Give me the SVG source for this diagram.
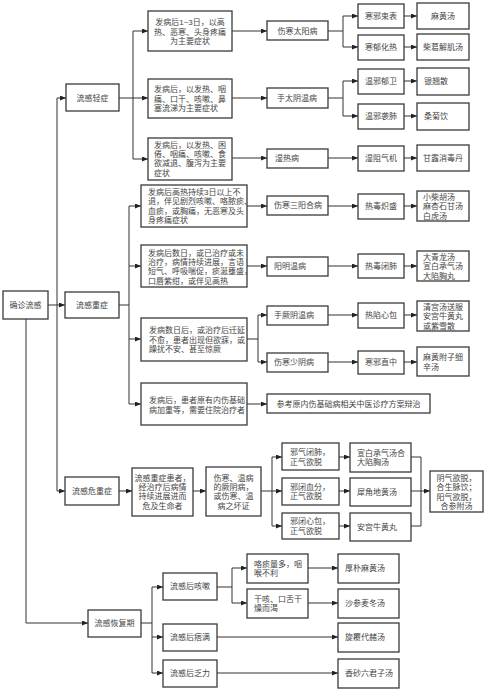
<svg xmlns="http://www.w3.org/2000/svg" width="500" height="693" viewBox="0 0 500 693">
<defs>
<style>
.b{fill:#fff;stroke:#3a3a3a;stroke-width:1.3}
.t{font-family:"Liberation Sans","Noto Sans CJK SC",sans-serif;font-size:8px;fill:#444;dominant-baseline:central}
.m{text-anchor:middle}
.c{fill:none;stroke:#333;stroke-width:1}
.a{marker-end:url(#ah)}
</style>
<marker id="ah" viewBox="0 0 10 10" refX="10" refY="5" markerWidth="6" markerHeight="5" markerUnits="userSpaceOnUse" orient="auto" preserveAspectRatio="none"><path d="M0,0 L10,5 L0,10 z" fill="#222"/></marker>
</defs>
<rect width="500" height="693" fill="#fff"/>

<g id="connectors">
<path class="c" d="M57,98 V491"/>
<path class="c a" d="M57,98 H66"/>
<path class="c a" d="M48,305 H65"/>
<path class="c a" d="M57,491 H65"/>
<path class="c a" d="M26,319 V623 H88"/>

<path class="c" d="M119,98 H133 M133,31 V159"/>
<path class="c a" d="M133,31 H148"/>
<path class="c a" d="M133,98 H148"/>
<path class="c a" d="M133,159 H148"/>

<path class="c a" d="M232,31 H267"/>
<path class="c" d="M328,31 H343 M343,16 V47"/>
<path class="c a" d="M343,16 H358"/>
<path class="c a" d="M343,47 H358"/>
<path class="c a" d="M404,16 H417"/>
<path class="c a" d="M404,47 H417"/>

<path class="c a" d="M232,98 H267"/>
<path class="c" d="M328,98 H343 M343,81 V116"/>
<path class="c a" d="M343,81 H358"/>
<path class="c a" d="M343,116 H358"/>
<path class="c a" d="M404,81 H417"/>
<path class="c a" d="M404,116 H417"/>

<path class="c a" d="M232,158 H267"/>
<path class="c a" d="M328,158 H358"/>
<path class="c a" d="M404,158 H417"/>

<path class="c" d="M119,305 H129 M129,206 V404"/>
<path class="c a" d="M129,206 H141"/>
<path class="c a" d="M129,266 H141"/>
<path class="c a" d="M129,339 H141"/>
<path class="c a" d="M129,404 H141"/>

<path class="c a" d="M247,206 H267"/>
<path class="c a" d="M328,206 H358"/>
<path class="c a" d="M404,206 H417"/>
<path class="c a" d="M247,266 H267"/>
<path class="c a" d="M328,266 H358"/>
<path class="c a" d="M404,266 H417"/>
<path class="c" d="M247,339 H258 M258,315 V362"/>
<path class="c a" d="M258,315 H267"/>
<path class="c a" d="M258,362 H267"/>
<path class="c a" d="M328,315 H358"/>
<path class="c a" d="M404,315 H417"/>
<path class="c a" d="M328,362 H358"/>
<path class="c a" d="M404,362 H417"/>
<path class="c a" d="M247,404 H267"/>

<path class="c a" d="M119,491 H132"/>
<path class="c a" d="M193,491 H206"/>
<path class="c" d="M261,491 H272 M272,457 V526"/>
<path class="c a" d="M272,457 H282"/>
<path class="c a" d="M272,491 H282"/>
<path class="c a" d="M272,526 H282"/>
<path class="c a" d="M339,457 H350"/>
<path class="c a" d="M339,491 H350"/>
<path class="c a" d="M339,526 H350"/>
<path class="c" d="M411,457 H421 V526 H411"/>
<path class="c a" d="M411,491 H430"/>

<path class="c" d="M141,623 H152 M152,587 V673"/>
<path class="c a" d="M152,587 H163"/>
<path class="c a" d="M152,637 H163"/>
<path class="c a" d="M152,673 H163"/>
<path class="c" d="M217,587 H232 M232,568 V603"/>
<path class="c a" d="M232,568 H247"/>
<path class="c a" d="M232,603 H247"/>
<path class="c a" d="M308,568 H338"/>
<path class="c a" d="M308,603 H338"/>
<path class="c a" d="M217,637 H338"/>
<path class="c a" d="M217,673 H338"/>
</g>

<g id="root"><rect class="b" x="3" y="291" width="45" height="28"/><text class="t m" x="25.5" y="305">确诊流感</text></g>
<g id="mild"><rect class="b" x="66" y="84" width="53" height="27"/><text class="t m" x="92.5" y="98">流感轻症</text></g>
<g id="severe"><rect class="b" x="65" y="292" width="54" height="26"/><text class="t m" x="92" y="305">流感重症</text></g>
<g id="critical"><rect class="b" x="65" y="477" width="54" height="28"/><text class="t m" x="92" y="491">流感危重症</text></g>
<g id="recovery"><rect class="b" x="88" y="610" width="53" height="27"/><text class="t m" x="114.5" y="623.5">流感恢复期</text></g>

<g id="a1"><rect class="b" x="148" y="11" width="84" height="40"/>
<text class="t m"><tspan x="190" y="22">发病后1~3日，以高</tspan><tspan x="190" y="31.5">热、恶寒、头身疼痛</tspan><tspan x="190" y="41">为主要症状</tspan></text></g>
<g id="a2"><rect class="b" x="148" y="79" width="84" height="39"/>
<text class="t"><tspan x="154" y="89.3">发病后，以发热、咽</tspan><tspan x="154" y="98.5">痛、口干、咳嗽、鼻</tspan><tspan x="154" y="107.7">塞流涕为主要症状</tspan></text></g>
<g id="a3"><rect class="b" x="148" y="138" width="84" height="42"/>
<text class="t"><tspan x="154" y="145">发病后，以发热、困</tspan><tspan x="154" y="154.2">倦、咽痛、咳嗽、食</tspan><tspan x="154" y="163.4">欲减退、腹泻为主要</tspan><tspan x="154" y="172.6">症状</tspan></text></g>

<g id="tyb"><rect class="b" x="267" y="21" width="61" height="19"/><text class="t m" x="297.5" y="31">伤寒太阳病</text></g>
<g id="hxsb"><rect class="b" x="358" y="4" width="46" height="24"/><text class="t m" x="381" y="16">寒邪束表</text></g>
<g id="mht"><rect class="b" x="417" y="3" width="52" height="26"/><text class="t m" x="443" y="16">麻黄汤</text></g>
<g id="hyhr"><rect class="b" x="358" y="35" width="46" height="25"/><text class="t m" x="381" y="47.5">寒郁化热</text></g>
<g id="cgjjt"><rect class="b" x="417" y="34" width="52" height="26"/><text class="t m" x="443" y="47">柴葛解肌汤</text></g>
<g id="stywb"><rect class="b" x="267" y="88" width="61" height="20"/><text class="t m" x="297" y="98">手太阴温病</text></g>
<g id="wxyw"><rect class="b" x="358" y="69" width="46" height="25"/><text class="t m" x="381" y="81.5">温邪郁卫</text></g>
<g id="yqs"><rect class="b" x="417" y="68" width="52" height="27"/><text class="t" x="424" y="81.5">银翘散</text></g>
<g id="wxxf"><rect class="b" x="358" y="104" width="46" height="25"/><text class="t m" x="381" y="116.5">温邪袭肺</text></g>
<g id="sjy"><rect class="b" x="417" y="103" width="52" height="27"/><text class="t" x="424" y="116.5">桑菊饮</text></g>
<g id="srb"><rect class="b" x="267" y="149" width="61" height="19"/><text class="t" x="275" y="158.5">湿热病</text></g>
<g id="szqj"><rect class="b" x="358" y="146" width="46" height="25"/><text class="t m" x="381" y="158.5">湿阻气机</text></g>
<g id="glxdd"><rect class="b" x="417" y="145" width="52" height="26"/><text class="t m" x="443" y="158">甘露消毒丹</text></g>

<g id="b1"><rect class="b" x="141" y="185" width="106" height="42"/>
<text class="t"><tspan x="148" y="192">发病后高热持续3日以上不</tspan><tspan x="148" y="201.3">退，伴见剧烈咳嗽、咯脓痰、</tspan><tspan x="148" y="210.6">血痰，或胸痛，无恶寒及头</tspan><tspan x="148" y="220">身疼痛症状</tspan></text></g>
<g id="b2"><rect class="b" x="141" y="245" width="106" height="42"/>
<text class="t"><tspan x="148" y="252.5">发病后数日，或已治疗或未</tspan><tspan x="148" y="261.8">治疗，病情持续进展，言语</tspan><tspan x="148" y="271.1">短气、呼吸喘促，痰涎壅盛，</tspan><tspan x="148" y="280.5">口唇紫绀，或伴见高热</tspan></text></g>
<g id="b3"><rect class="b" x="141" y="318" width="106" height="43"/>
<text class="t"><tspan x="149" y="330">发病数日后，或治疗后迁延</tspan><tspan x="149" y="339.5">不愈，患者出现但欲寐，或</tspan><tspan x="149" y="349">躁扰不安、甚至惊厥</tspan></text></g>
<g id="b4"><rect class="b" x="141" y="383" width="106" height="42"/>
<text class="t"><tspan x="149" y="400">发病后，患者原有内伤基础</tspan><tspan x="149" y="409.5">病加重等，需要住院治疗者</tspan></text></g>

<g id="ssyhb"><rect class="b" x="267" y="196" width="61" height="19"/><text class="t" x="274" y="205.5">伤寒三阳合病</text></g>
<g id="rdcs"><rect class="b" x="358" y="194" width="46" height="25"/><text class="t m" x="381" y="206.5">热毒炽盛</text></g>
<g id="xcht"><rect class="b" x="417" y="191" width="52" height="30"/>
<text class="t"><tspan x="423" y="197">小柴胡汤</tspan><tspan x="423" y="206.3">麻杏石甘汤</tspan><tspan x="423" y="215.6">白虎汤</tspan></text></g>
<g id="ymwb"><rect class="b" x="267" y="257" width="61" height="19"/><text class="t" x="274" y="266.5">阳明温病</text></g>
<g id="rdbf"><rect class="b" x="358" y="254" width="46" height="24"/><text class="t m" x="381" y="266">热毒闭肺</text></g>
<g id="dqlt"><rect class="b" x="417" y="251" width="52" height="30"/>
<text class="t"><tspan x="423" y="257">大青龙汤</tspan><tspan x="423" y="266.3">宣白承气汤</tspan><tspan x="423" y="275.6">大陷胸丸</tspan></text></g>
<g id="sjywb"><rect class="b" x="267" y="306" width="61" height="19"/><text class="t" x="274" y="315.5">手厥阴温病</text></g>
<g id="rxxb"><rect class="b" x="358" y="303" width="46" height="25"/><text class="t m" x="381" y="315.5">热陷心包</text></g>
<g id="qgt"><rect class="b" x="417" y="301" width="52" height="30"/>
<text class="t"><tspan x="423" y="306.7">清宫汤送服</tspan><tspan x="423" y="316">安宫牛黄丸</tspan><tspan x="423" y="325.5">或紫雪散</tspan></text></g>
<g id="sslyb"><rect class="b" x="267" y="353" width="61" height="19"/><text class="t" x="274" y="362.5">伤寒少阴病</text></g>
<g id="hxzz"><rect class="b" x="358" y="351" width="46" height="23"/><text class="t m" x="381" y="362.5">寒邪直中</text></g>
<g id="mhfzxxt"><rect class="b" x="417" y="347" width="52" height="29"/>
<text class="t"><tspan x="423" y="357">麻黄附子细</tspan><tspan x="423" y="366.5">辛汤</tspan></text></g>
<g id="ckny"><rect class="b" x="267" y="394" width="163" height="19"/><text class="t m" x="348.5" y="404">参考原内伤基础病相关中医诊疗方案辩治</text></g>

<g id="c1"><rect class="b" x="132" y="468" width="61" height="48"/>
<text class="t m"><tspan x="162.5" y="478">流感重症患者，</tspan><tspan x="162.5" y="487.2">经治疗后病情</tspan><tspan x="162.5" y="496.4">持续进展进而</tspan><tspan x="162.5" y="505.6">危及生命者</tspan></text></g>
<g id="c2"><rect class="b" x="206" y="467" width="55" height="49"/>
<text class="t m"><tspan x="233.5" y="478">伤寒、温病</tspan><tspan x="233.5" y="487.2">的厥阴病，</tspan><tspan x="233.5" y="496.4">或伤寒、温</tspan><tspan x="233.5" y="505.6">病之坏证</tspan></text></g>
<g id="c3"><rect class="b" x="282" y="443" width="57" height="27"/>
<text class="t"><tspan x="290" y="452.3">邪气闭肺，</tspan><tspan x="290" y="461.7">正气欲脱</tspan></text></g>
<g id="c4"><rect class="b" x="282" y="478" width="57" height="27"/>
<text class="t"><tspan x="290" y="486.8">邪闭血分，</tspan><tspan x="290" y="496.2">正气欲脱</tspan></text></g>
<g id="c5"><rect class="b" x="282" y="513" width="57" height="26"/>
<text class="t"><tspan x="290" y="521.3">邪闭心包，</tspan><tspan x="290" y="530.7">正气欲脱</tspan></text></g>
<g id="c6"><rect class="b" x="350" y="443" width="61" height="29"/>
<text class="t"><tspan x="357" y="452.8">宣白承气汤合</tspan><tspan x="357" y="462.2">大陷胸汤</tspan></text></g>
<g id="c7"><rect class="b" x="350" y="478" width="61" height="28"/><text class="t" x="357" y="492">犀角地黄汤</text></g>
<g id="c8"><rect class="b" x="350" y="513" width="61" height="28"/><text class="t" x="357" y="527">安宫牛黄丸</text></g>
<g id="c9"><rect class="b" x="430" y="471" width="53" height="41"/>
<text class="t m"><tspan x="456.5" y="477.5">阴气欲脱，</tspan><tspan x="456.5" y="487">合生脉饮；</tspan><tspan x="456.5" y="496.5">阳气欲脱，</tspan><tspan x="456.5" y="506">合参附汤</tspan></text></g>

<g id="d1"><rect class="b" x="163" y="573" width="54" height="27"/><text class="t m" x="190" y="586.5">流感后咳嗽</text></g>
<g id="d2"><rect class="b" x="163" y="624" width="54" height="27"/><text class="t m" x="190" y="637.5">流感后痞满</text></g>
<g id="d3"><rect class="b" x="163" y="660" width="54" height="27"/><text class="t m" x="190" y="673.5">流感后乏力</text></g>
<g id="d4"><rect class="b" x="247" y="554" width="61" height="29"/>
<text class="t"><tspan x="254" y="563.8">咯痰量多，咽</tspan><tspan x="254" y="573.2">喉不利</tspan></text></g>
<g id="d5"><rect class="b" x="247" y="589" width="61" height="29"/>
<text class="t"><tspan x="254" y="598.8">干咳、口舌干</tspan><tspan x="254" y="608.2">燥而渴</tspan></text></g>
<g id="d6"><rect class="b" x="338" y="554" width="61" height="29"/><text class="t" x="345" y="568.5">厚朴麻黄汤</text></g>
<g id="d7"><rect class="b" x="338" y="589" width="61" height="29"/><text class="t" x="345" y="603.5">沙参麦冬汤</text></g>
<g id="d8"><rect class="b" x="338" y="623" width="61" height="29"/><text class="t" x="345" y="637.5">旋覆代赭汤</text></g>
<g id="d9"><rect class="b" x="338" y="659" width="61" height="29"/><text class="t" x="345" y="673.5">香砂六君子汤</text></g>
</svg>
